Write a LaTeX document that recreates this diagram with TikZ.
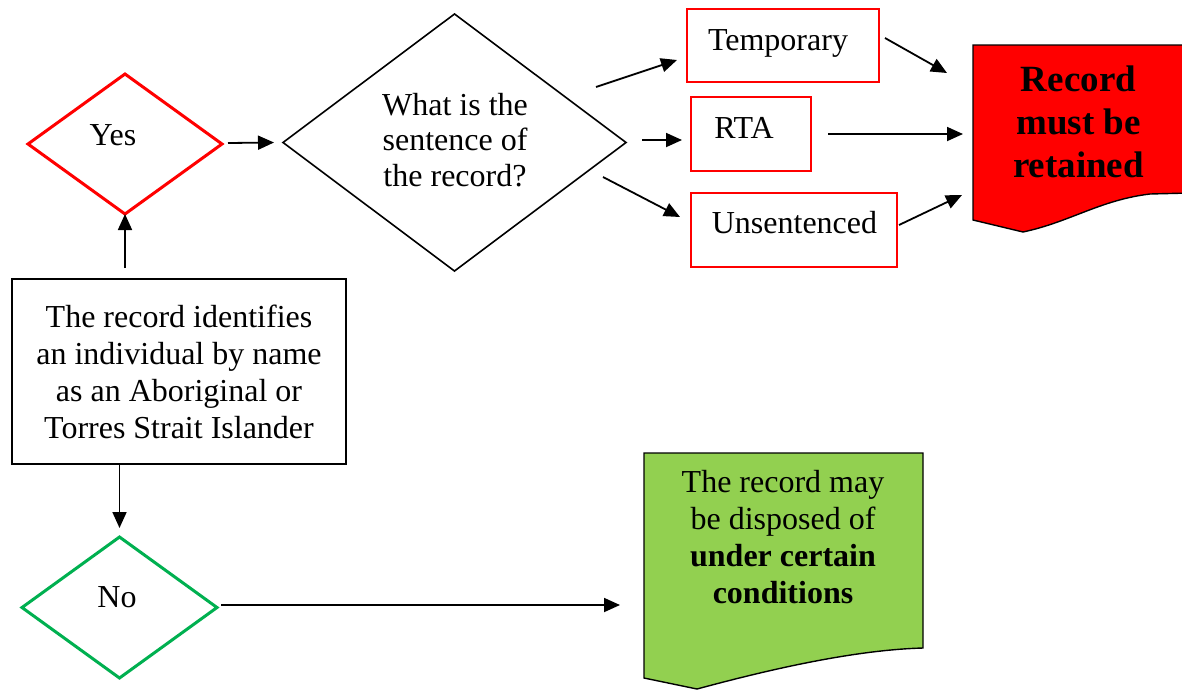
\documentclass[tikz,border=0pt]{standalone}
\usepackage{fontspec}
\setmainfont{Liberation Serif}
\usetikzlibrary{shapes.geometric,arrows.meta,calc}
\definecolor{docred}{HTML}{FF0000}
\definecolor{docgreen}{HTML}{92D050}
\definecolor{nogreen}{HTML}{00B050}
\begin{document}
\begin{tikzpicture}[x=1pt,y=-1pt,
  arr/.style={line width=1.8pt,-{Triangle[length=16pt,width=14pt]}},
  dia/.style={diamond,draw,inner sep=0pt,outer sep=0pt},
  redbox/.style={rectangle,draw=docred,line width=1.4pt,inner sep=0pt,outer sep=0pt},
  blackbox/.style={rectangle,draw,line width=1.6pt,inner sep=0pt,outer sep=0pt},
  ghost/.style={rectangle,draw=none,inner sep=0pt,outer sep=0pt},
  txt/.style={font=\fontsize{32}{36.7}\selectfont,align=center,inner sep=0pt,anchor=base},
  bigtxt/.style={font=\fontsize{37}{43}\selectfont\bfseries,align=center,inner sep=0pt,anchor=base},
  docline/.style={line width=1.4pt,draw=black},
]
\useasboundingbox (0,0) rectangle (1182,691);
\clip (0,0) rectangle (1182,691);
\fill[white] (0,0) rectangle (1182,691);

% decision diamonds
\node[dia,draw=docred,line width=3pt,minimum width=194pt,minimum height=140pt] (yes) at (125,144) {};
\node[txt] (yestxt) at (113,145) {Yes};
\node[dia,line width=1.6pt,minimum width=343pt,minimum height=257pt] (q) at (454.5,142.5) {};
\node[txt,font=\fontsize{32}{35.5}\selectfont] (qtxt) at (455,186) {What is the\\sentence of\\the record?};
\node[dia,draw=nogreen,line width=3pt,minimum width=195pt,minimum height=141pt] (no) at (119.5,607.5) {};
\node[txt] (notxt) at (117,607) {No};

% main box
\node[blackbox,minimum width=334pt,minimum height=185pt] (rec) at (179,371.5) {};
\node[txt] (rectxt) at (179,438) {The record identifies\\an individual by name\\as an Aboriginal or\\Torres Strait Islander};

% sentence boxes
\node[redbox,minimum width=192pt,minimum height=73pt] (temp) at (783,45.5) {};
\node[txt] (temptxt) at (778,50) {Temporary};
\node[redbox,minimum width=120pt,minimum height=74pt] (rta) at (751,134) {};
\node[txt] (rtatxt) at (744,138) {RTA};
\node[redbox,minimum width=206pt,minimum height=74pt] (uns) at (794,230) {};
\node[txt] (unstxt) at (794.5,233) {Unsentenced};

% document: retained
\node[ghost,minimum width=217pt,minimum height=187pt] (ret) at (1081.5,138.5) {};
\filldraw[docline,fill=docred] (ret.north west) -- (ret.north east) -- (1190,193) -- (1150,194)
  .. controls (1100,200) and (1070,222) .. (1023,232) -- (ret.north west |- 0,220) -- cycle;
\node[bigtxt] (rettxt) at (1078.5,177) {Record\\must be\\retained};

% document: disposed
\node[ghost,minimum width=279pt,minimum height=236pt] (disp) at (783.5,571) {};
\filldraw[docline,fill=docgreen] (disp.north west) -- (disp.north east) -- (923,648)
  .. controls (850,650) and (760,672) .. (697,689) -- (644,678) -- cycle;
\node[txt] (disptxt) at (783,603) {The record may\\be disposed of\\\textbf{under certain}\\\textbf{conditions}};

% connectors
\draw[arr] ([shift={(0,54)}]yes.south) -- (yes.south);
\draw[arr] ([shift={(6,-1)}]yes.east) -- ([shift={(-9,0)}]q.west);
\draw[arr] (rec.south -| no.north) -- ([shift={(0,-9)}]no.north);
\draw[arr] ([shift={(4,-2.5)}]no.east) -- ([shift={(-24,34)}]disp.west);
\draw[arr] ([shift={(-30,-55.5)}]q.east) -- ([shift={(-10,14.5)}]temp.west);
\draw[arr] ([shift={(16,-2.5)}]q.east) -- ([shift={(-9,6)}]rta.west);
\draw[arr] ([shift={(-23,34.5)}]q.east) -- ([shift={(-11,-13)}]uns.west);
\draw[arr] ([shift={(6,-7.5)}]temp.east) -- ([shift={(-26,28)}]ret.north west);
\draw[arr] ([shift={(17,0)}]rta.east) -- ([shift={(-10,-4.5)}]ret.west);
\draw[arr] ([shift={(2,-5)}]uns.east) -- ([shift={(-11,-37)}]ret.south west);
\end{tikzpicture}
\end{document}
